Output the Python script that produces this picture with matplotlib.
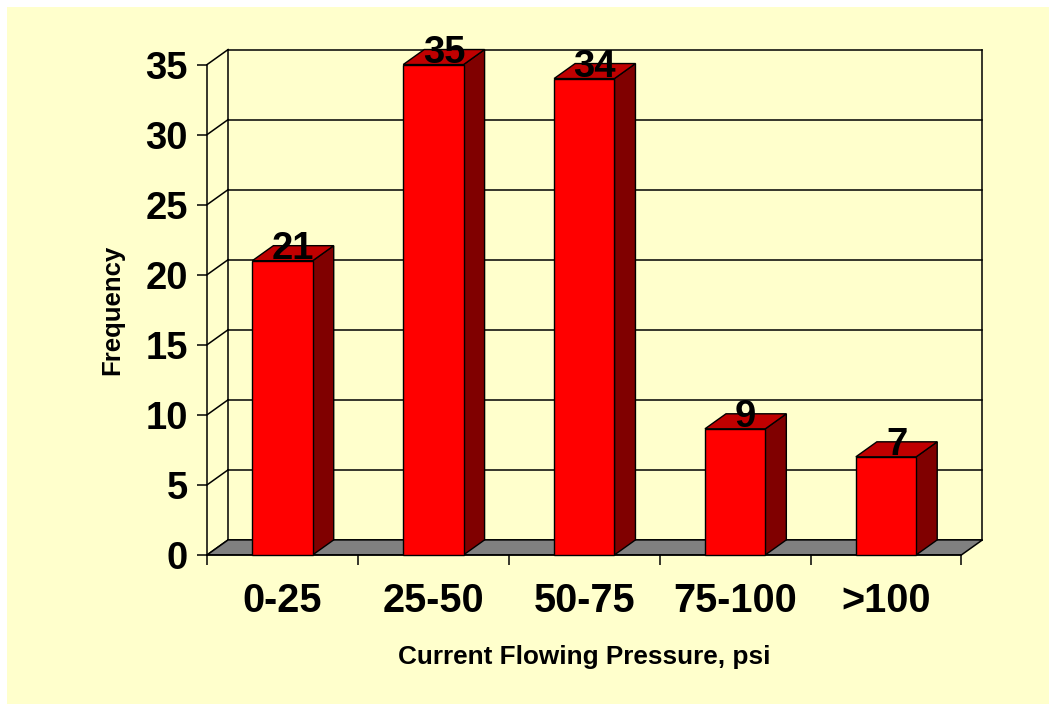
import matplotlib
matplotlib.use("Agg")
import matplotlib.pyplot as plt
from matplotlib.patches import Polygon, Rectangle

categories = ["0-25", "25-50", "50-75", "75-100", ">100"]
frequency = [21, 35, 34, 9, 7]
y_ticks = [0, 5, 10, 15, 20, 25, 30, 35]

BG = "#FFFFCC"
FRONT = "#FF0000"
TOP = "#C00000"
SIDE = "#800000"
FLOOR = "#808080"

plt.rcParams["font.family"] = ["Liberation Sans", "DejaVu Sans"]
plt.rcParams["font.weight"] = "bold"

# small epsilon so Agg does not truncate to 1048 px
fig = plt.figure(figsize=(10.495, 7.045), dpi=100)
fig.patch.set_facecolor(BG)
# thin white margin along the top and left edges
fig.add_artist(Rectangle((0, 0), 7 / 1049, 1, transform=fig.transFigure,
                         facecolor="white", edgecolor="none", zorder=-10))
fig.add_artist(Rectangle((0, 1 - 7 / 704), 1, 7 / 704, transform=fig.transFigure,
                         facecolor="white", edgecolor="none", zorder=-10))

ax = fig.add_axes([207 / 1049, 149 / 704, 754 / 1049, 490 / 704])
ax.set_facecolor("none")
n = len(categories)
x0, x1 = -0.5, n - 0.5
ymax = y_ticks[-1]
ax.set_xlim(x0, x1)
ax.set_ylim(0, ymax)
for s in ax.spines.values():
    s.set_visible(False)

# depth offset of the 3D box, in data units (~21 px right, 15 px up)
dx = 21 / (754 / n)
dy = 15 / (490 / ymax)
lw = 1.1

# back wall gridlines and left wall
for t in y_ticks:
    ax.plot([x0 + dx, x1 + dx], [t + dy, t + dy], color="black", lw=lw, zorder=1, clip_on=False)
    ax.plot([x0, x0 + dx], [t, t + dy], color="black", lw=lw, zorder=1, clip_on=False)
ax.plot([x0, x0], [0, ymax], color="black", lw=lw, zorder=1, clip_on=False)
ax.plot([x0 + dx, x0 + dx], [dy, ymax + dy], color="black", lw=lw, zorder=1, clip_on=False)
ax.plot([x1 + dx, x1 + dx], [dy, ymax + dy], color="black", lw=lw, zorder=1, clip_on=False)

# floor
ax.add_patch(Polygon([(x0, 0), (x1, 0), (x1 + dx, dy), (x0 + dx, dy)], closed=True,
                     facecolor=FLOOR, edgecolor="black", lw=lw, zorder=2, clip_on=False))

# bars
w = 0.4
for i, v in enumerate(frequency):
    l, r = i - w / 2, i + w / 2
    ax.add_patch(Polygon([(r, 0), (r + dx, dy), (r + dx, v + dy), (r, v)], closed=True,
                         facecolor=SIDE, edgecolor="black", lw=1.0, zorder=3, clip_on=False))
    ax.add_patch(Polygon([(l, v), (r, v), (r + dx, v + dy), (l + dx, v + dy)], closed=True,
                         facecolor=TOP, edgecolor="black", lw=1.0, zorder=3, clip_on=False))
    ax.add_patch(Rectangle((l, 0), w, v, facecolor=FRONT, edgecolor="black", lw=1.0,
                           zorder=4, clip_on=False))
    ax.text(i + dx / 2, v + 0.15, str(v), ha="center", va="baseline",
            fontsize=27.5, fontweight="bold", zorder=5)

# axes ticks
ax.set_yticks(y_ticks)
ax.tick_params(axis="y", direction="out", length=7.2, width=1.1, pad=6.5, labelsize=27.5)
ax.set_xticks([x0 + k for k in range(n + 1)])
ax.set_xticklabels([])
ax.set_xticks(range(n), minor=True)
ax.set_xticklabels(categories, minor=True)
ax.tick_params(axis="x", which="major", direction="out", length=7.2, width=1.1)
ax.tick_params(axis="x", which="minor", length=0, pad=19, labelsize=28.5)
ax.plot([x0, x1], [0, 0], color="black", lw=lw, zorder=2, clip_on=False)

ax.set_ylabel("Frequency", fontsize=18.5, fontweight="bold", labelpad=15)
ax.set_xlabel("Current Flowing Pressure, psi", fontsize=18.8, fontweight="bold", labelpad=18)

fig.savefig("out.png", dpi=100, facecolor=fig.get_facecolor())
